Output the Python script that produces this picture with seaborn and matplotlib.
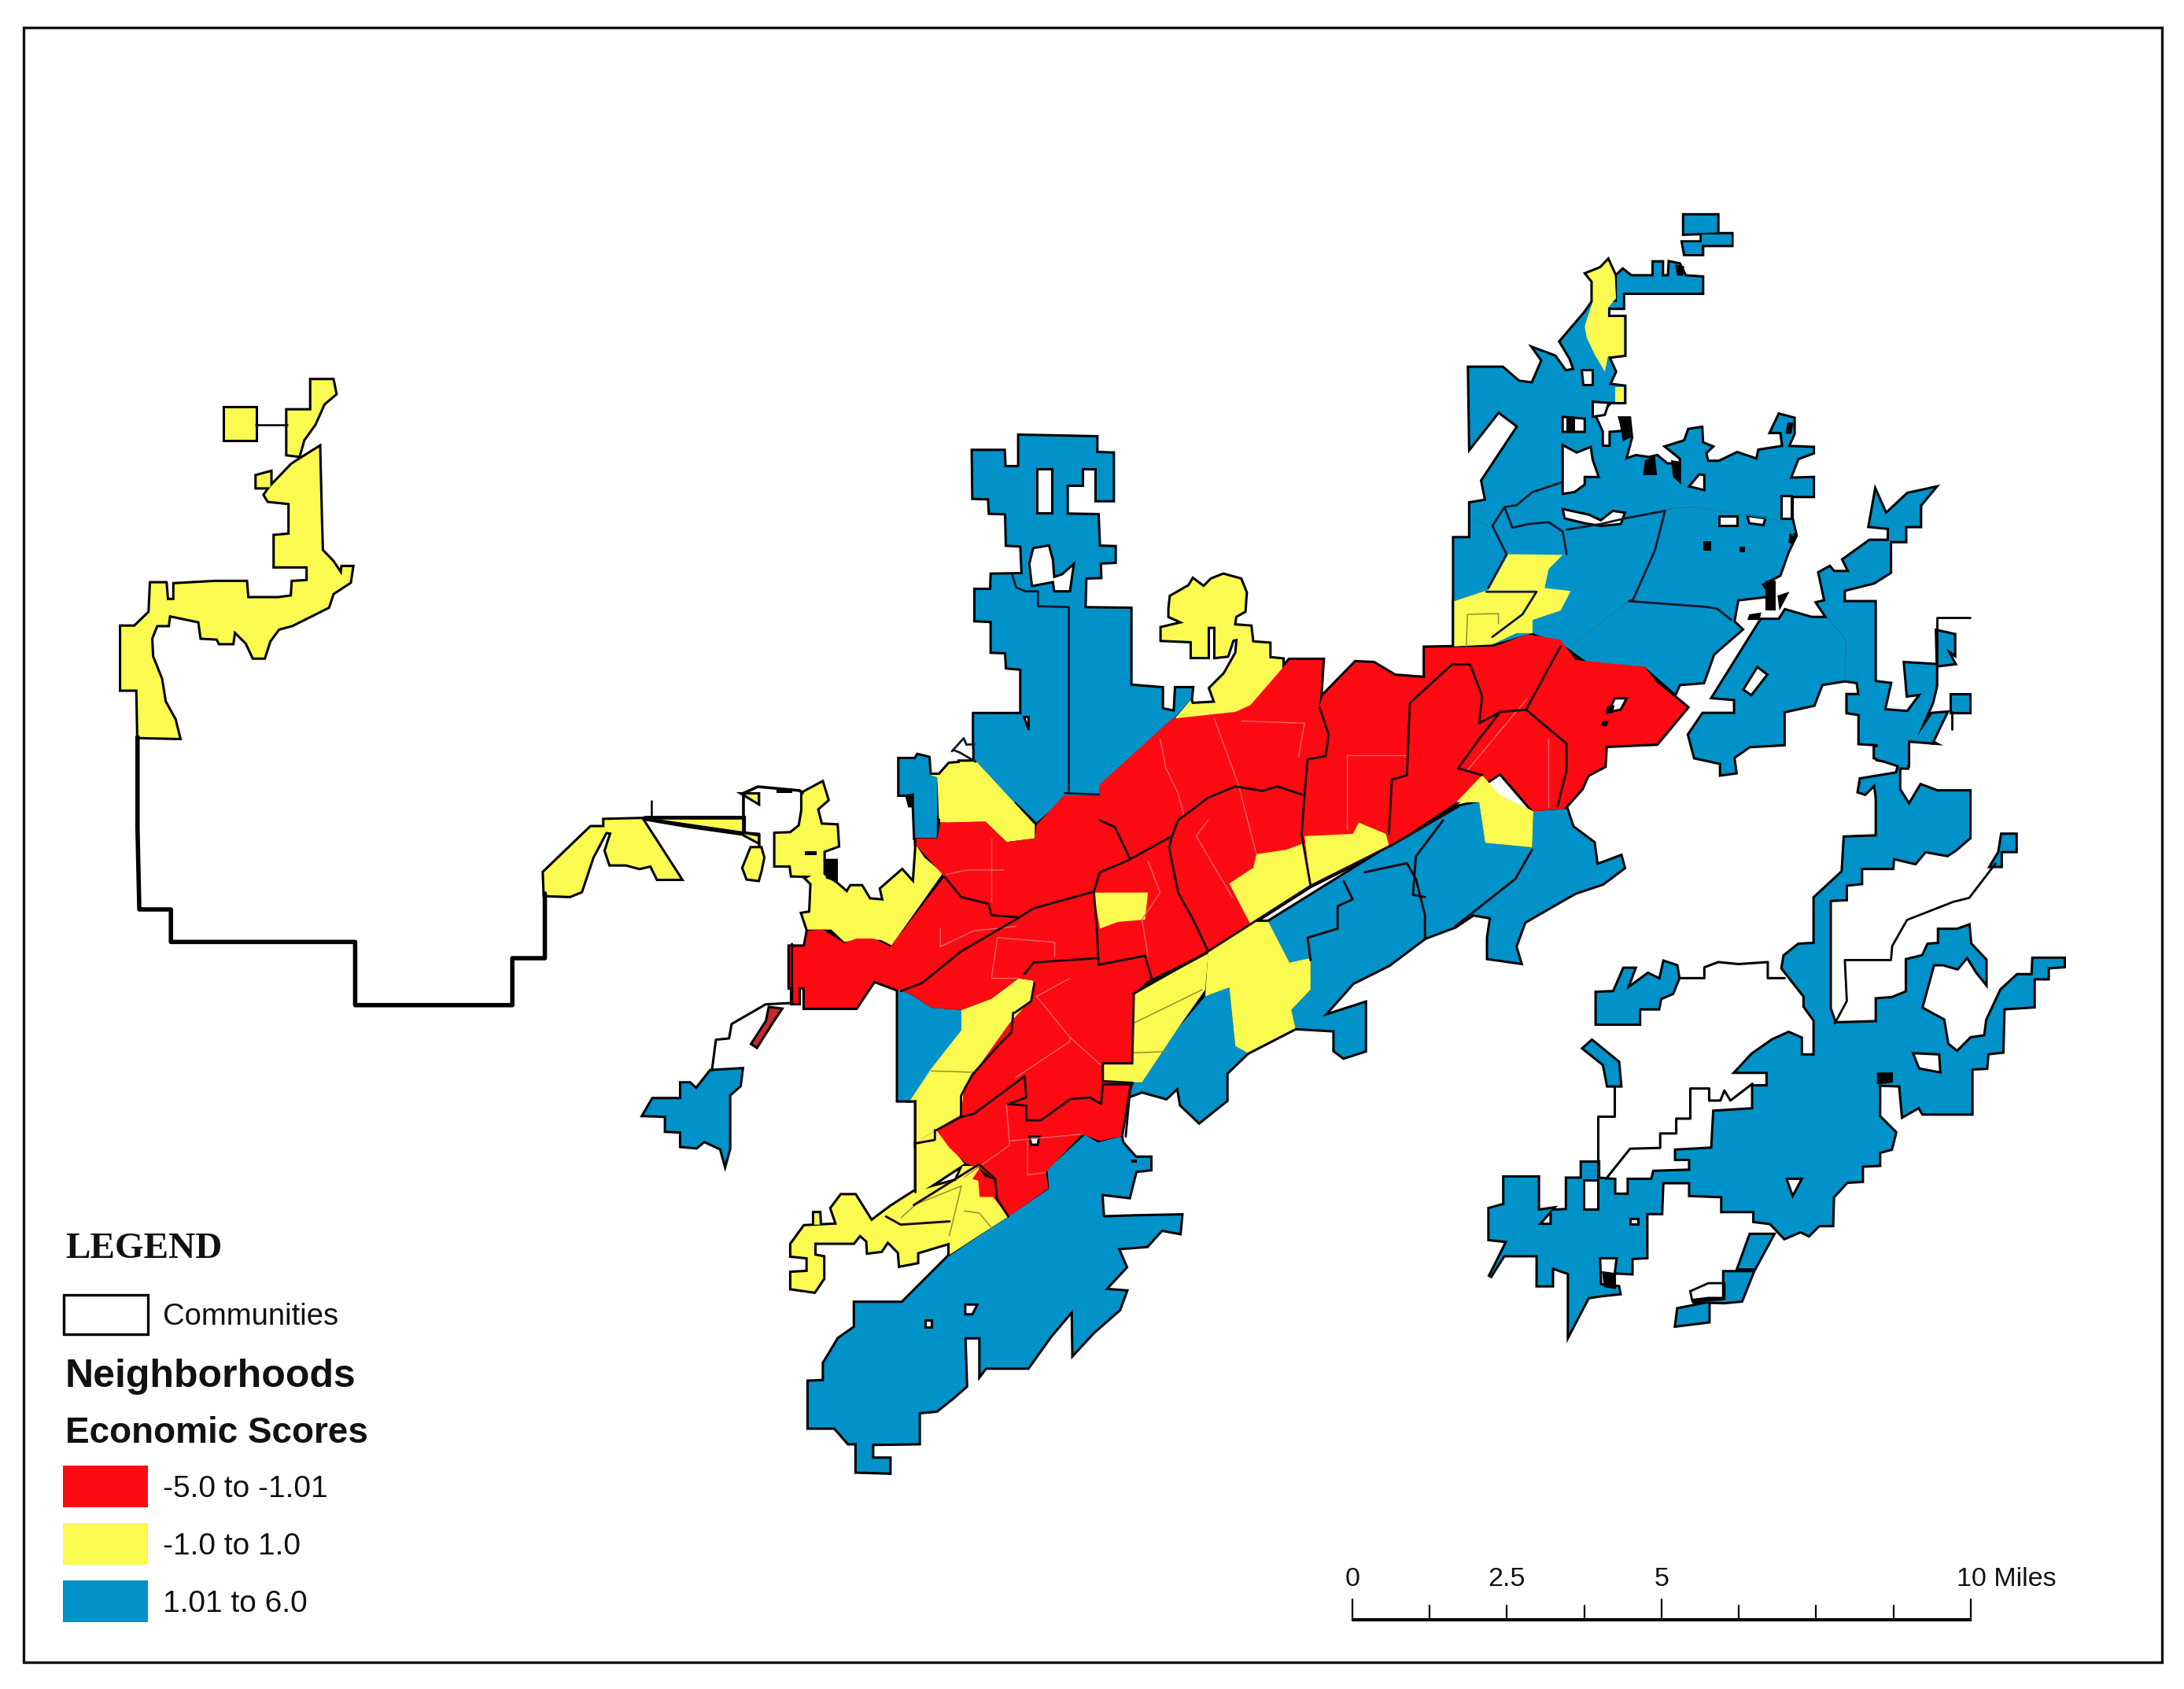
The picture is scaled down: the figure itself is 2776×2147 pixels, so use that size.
import pandas as pd
import matplotlib.pyplot as plt
import seaborn as sns

sns.set_theme(style='white')
plt.rcParams['font.family'] = ['Liberation Sans', 'DejaVu Sans']

# Each map sheet: left, top, x scale, y scale of the traced outlines on the page
SHEETS = {
    'centre': (1000, 750, 0.7653, 0.574),
    'northeast': (1800, 250, 0.5102, 0.4783),
    'east': (1850, 950, 0.5102, 0.5102),
    'west': (130, 450, 0.574, 0.574),
    'south': (950, 1250, 0.4145, 0.4145),
    'north': (1130, 520, 0.3333, 0.3333),
    'midwest': (780, 960, 0.3333, 0.3333),
}

LEGEND_LABELS = ['-5.0 to -1.01', '-1.0 to 1.0', '1.01 to 6.0']
CLASS_COLORS = sns.color_palette(['#fe0a12', '#fafa50', '#0092c8'])
SCALE_MILES = [0, 1.25, 2.5, 3.75, 5, 6.25, 7.5, 8.75, 10]
SCALE_LABELS = ['0', '2.5', '5', '10 Miles']

# High score neighborhoods
blue_north = [(320,160),(437,160),(440,222),(497,222),(497,102),(790,108),(790,168),(853,170),(853,347),(792,347),(792,225),(735,225),(735,288),(677,288),(677,403),(795,405),(800,525),(860,527),(860,582),(803,585),(805,640),(748,642),(745,760),(920,762),(920,1055),(1040,1065),(1040,1145),(1090,1155),(1095,1065),(1155,1065),(1150,1110),(1095,1170),(1000,1280),(880,1380),(800,1480),(670,1480),(470,1500),(330,1345),(325,1275),(325,1165),(490,1165),(497,1225),(537,1225),(537,1170),(505,1170),(505,990),(450,985),(447,927),(392,925),(392,808),(330,805),(330,690),(390,690),(392,632),(510,630),(505,520),(450,517),(447,397),(385,395),(382,340),(322,338)]
blue_north_low = [(312,275),(390,275),(400,310),(470,310),(470,450),(415,515),(312,380)]
blue_notch = [(1090,15),(1150,15),(1160,0),(1200,10),(1205,75),(1235,85),(1232,315),(1150,315),(1145,190),(1130,190),(1120,150),(1090,150)]
blue_sw = [(115,1372),(150,1312),(258,1312),(258,1252),(290,1252),(315,1275),(370,1205),(488,1198),(480,1260),(440,1295),(440,1500),(425,1555),(410,1500),(345,1470),(315,1495),(258,1490),(258,1435),(200,1432),(200,1375)]
blue_west_wedge = [(185,885),(205,895),(240,925),(290,930),(290,975),(205,1130),(185,1130)]
blue_northeast = [(95,908),(135,908),(135,815),(175,808),(165,755),(255,610),(205,570),(135,665),(132,455),(215,455),(255,492),(290,497),(315,435),(295,405),(345,425),(372,465),(395,460),(385,430),(360,385),(420,310),(440,280),(500,280),(500,210),(515,195),(535,212),(592,212),(592,175),(612,175),(612,212),(630,212),(632,175),(655,180),(670,212),(712,215),(712,255),(515,255),(515,295),(478,295),(478,320),(518,320),(518,420),(478,425),(495,465),(480,500),(518,505),(518,545),(485,545),(445,585),(462,625),(462,665),(485,665),(485,628),(520,625),(510,590),(530,590),(535,640),(520,700),(548,690),(580,695),(600,690),(625,712),(660,712),(660,695),(625,665),(670,650),(680,620),(710,615),(712,655),(735,665),(720,680),(725,705),(755,705),(800,682),(850,700),(855,675),(915,665),(988,668),(988,680),(950,695),(930,750),(988,748),(988,795),(935,795),(935,855),(945,900),(925,945),(905,1005),(860,1030),(880,1060),(800,1070),(790,1130),(810,1150),(740,1215),(715,1290),(655,1295),(645,1320),(570,1250),(430,1240),(385,1205),(365,1190),(290,1160),(190,1190),(95,1195)]
blue_ne_tip = [(668,50),(750,50),(750,95),(668,98)]
blue_ne_hook = [(665,122),(712,122),(712,100),(785,100),(785,128),(712,128),(712,152),(670,152)]
blue_ne_spire = [(905,580),(940,590),(940,630),(925,665),(915,665),(910,625),(885,625)]
blue_ne_lobe = [(860,1125),(905,1125),(920,1100),(985,1120),(1025,1120),(1072,1180),(1068,1285),(1010,1295),(990,1350),(915,1368),(915,1455),(830,1460),(790,1490),(795,1530),(760,1535),(760,1505),(695,1490),(680,1430),(715,1375),(795,1375),(795,1335),(740,1330)]
blue_ne_strip = [(1005,1000),(1030,985),(1040,998),(1080,998),(1065,965),(1130,915),(1178,915),(1178,880),(1130,875),(1145,785),(1170,845),(1225,790),(1290,775),(1255,820),(1255,875),(1218,875),(1218,915),(1180,915),(1180,998),(1140,1025),(1065,1045),(1065,1078),(1142,1078),(1142,1290),(1180,1295),(1165,1365),(1225,1370),(1260,1320),(1225,1325),(1218,1240),(1295,1245),(1295,1300),(1285,1345),(1250,1430),(1285,1450),(1225,1445),(1225,1510),(1150,1495),(1150,1455),(1105,1452),(1105,1375),(1075,1370),(1075,1325),(1105,1325),(1100,1290),(1068,1285),(1072,1180),(1025,1120),(1000,1080),(1020,1075)]
blue_ne_sliver = [(1245,1440),(1285,1375),(1320,1372),(1285,1450)]
blue_ne_square = [(1335,1325),(1378,1325),(1378,1370),(1335,1370)]
blue_ne_nubs = [(1298,1155),(1340,1165),(1340,1215),(1320,1200),(1340,1240),(1300,1245)]
blue_east = [(895,375),(965,310),(970,225),(1050,222),(1050,125),(1085,110),(1130,145),(1160,95),(1200,110),(1280,110),(1280,225),(1245,255),(1225,268),(1170,258),(1145,288),(1090,275),(1088,300),(1010,300),(1010,338),(972,342),(972,378),(932,380),(932,650),(945,688),(1050,685),(1050,628),(1088,625),(1125,610),(1125,530),(1165,520),(1178,492),(1205,490),(1205,455),(1250,455),(1278,445),(1282,490),(1320,530),(1320,585),(1300,560),(1275,520),(1250,550),(1215,540),(1190,540),(1160,650),(1215,680),(1225,740),(1250,760),(1285,725),(1320,720),(1325,680),(1360,605),(1400,568),(1438,568),(1440,527),(1515,527),(1515,545),(1475,548),(1475,575),(1440,575),(1440,645),(1365,650),(1362,758),(1325,762),(1322,798),(1285,800),(1285,912),(1165,912),(1155,895),(1115,918),(1108,842),(1055,840),(1055,920),(1095,960),(1085,1000),(1055,1008),(1055,1040),(1012,1042),(1012,1080),(975,1082),(940,1120),(938,1190),(905,1190),(880,1215),(860,1205),(820,1222),(785,1185),(745,1180),(745,1155),(665,1155),(665,1118),(585,1115),(585,1083),(515,1083),(512,1160),(475,1160),(475,1270),(438,1272),(438,1310),(400,1308),(405,1270),(357,1270),(360,1340),(405,1345),(408,1360),(360,1365),(330,1370),(283,1460),(283,1310),(240,1295),(240,1340),(205,1340),(205,1265),(120,1265),(85,1320),(130,1230),(85,1225),(85,1150),(122,1140),(122,1072),(205,1072),(205,1155),(240,1150),(205,1190),(240,1190),(240,1155),(278,1153),(278,1075),(315,1075),(315,1035),(355,1035),(355,1075),(395,1078),(395,1115),(432,1115),(432,1078),(490,1078),(495,1058),(585,1055),(585,1025),(550,1025),(550,1005),(640,1000),(645,908),(742,902),(742,845),(778,845),(778,808),(700,808),(740,765),(790,730),(830,712),(860,725),(860,768),(895,768),(895,680),(870,645),(870,620),(815,550),(820,520),(855,492),(895,490)]
blue_east_curl = [(1005,110),(1010,80),(1100,65),(1105,45),(1045,25),(1045,0),(1125,0),(1125,50),(1105,50),(1105,105),(1130,145),(1050,125),(1045,90),(1020,115)]
blue_east_nub = [(1362,218),(1395,218),(1395,258),(1358,258),(1358,295),(1335,295),(1355,262)]
blue_east_blob = [(352,612),(395,610),(420,552),(445,552),(425,605),(480,565),(510,580),(520,535),(550,545),(555,575),(540,612),(510,625),(505,650),(457,650),(457,688),(352,688)]
blue_east_crescent = [(320,750),(340,732),(405,785),(410,842),(380,842),(370,790)]
blue_east_shard_a = [(705,1298),(735,1215),(790,1215),(745,1298)]
blue_east_shard_b = [(670,1308),(740,1308),(712,1378),(670,1382),(590,1380),(630,1375),(670,1375)]
blue_east_shard_c = [(555,1400),(630,1385),(630,1430),(550,1440)]
blue_river = [(800,735),(1005,565),(1115,480),(1150,470),(1160,560),(1238,570),(1240,490),(1295,485),(1305,525),(1340,560),(1345,610),(1385,590),(1390,615),(1355,650),(1310,670),(1290,685),(1225,735),(1210,790),(1218,825),(1165,815),(1165,770),(1170,725),(1140,718),(1110,745),(1060,770),(1000,830),(940,870),(890,945),(960,915),(960,1020),(925,1035),(910,1020),(910,975),(845,970),(838,930),(870,885),(870,815),(835,825)]
blue_river_south = [(735,880),(745,1010),(765,1025),(730,1070),(730,1130),(685,1178),(655,1140),(650,1100),(630,1125),(590,1110),(570,1120),(575,1095),(650,970),(695,900)]
blue_south = [(800,715),(620,835),(475,980),(330,980),(330,1055),(280,1090),(235,1165),(235,1220),(188,1222),(188,1362),(268,1362),(310,1410),(335,1410),(335,1497),(435,1500),(435,1458),(382,1458),(382,1412),(525,1410),(525,1315),(580,1310),(630,1270),(670,1235),(665,1085),(715,1085),(715,1198),(730,1178),(860,1178),(930,1080),(998,1000),(1000,1135),(1060,1070),(1140,1000),(1160,945),(1095,940),(1160,870),(1135,812),(1225,805),(1270,755),(1325,765),(1330,712),(1185,715),(1090,718),(1085,645),(1170,655),(1190,575),(1235,570),(1235,535),(1190,535),(1150,490),(1145,470),(1075,488),(1035,465),(920,570),(925,630)]

# Middle score neighborhoods
yellow_nw_main = [(42,604),(72,604),(105,572),(108,508),(140,508),(143,545),(160,545),(160,510),(250,505),(318,505),(321,541),(390,541),(420,537),(422,505),(455,503),(455,470),(382,470),(382,403),(415,400),(415,330),(368,325),(360,312),(372,295),(420,245),(440,232),(480,207),(484,370),(486,435),(510,460),(530,490),(532,472),(553,472),(548,505),(510,530),(500,560),(470,575),(420,600),(390,608),(370,635),(358,672),(335,672),(320,640),(292,612),(288,640),(260,640),(255,630),(220,628),(215,592),(148,578),(145,600),(120,600),(108,630),(110,670),(130,720),(138,770),(160,810),(170,850),(80,848),(78,743),(42,743)]
yellow_nw_square = [(272,120),(340,120),(340,190),(272,190)]
yellow_nw_top = [(410,125),(463,125),(463,58),(510,58),(516,88),(490,110),(470,155),(445,190),(435,225),(410,222)]
yellow_nw_bit = [(342,270),(372,262),(372,295),(342,295)]
yellow_west_arm = [(978,1148),(1082,1048),(1112,1048),(1112,1032),(1195,1030),(1280,1162),(1230,1162),(1215,1132),(1190,1138),(1160,1130),(1125,1130),(1115,1100),(1128,1060),(1115,1058),(1085,1115),(1060,1190),(1035,1200),(980,1198)]
yellow_west_wedge = [(1200,1028),(1420,1028),(1420,1062),(1300,1045)]
yellow_mid_main = [(720,145),(795,105),(815,170),(775,205),(790,265),(850,268),(855,345),(800,365),(800,455),(850,490),(890,525),(905,500),(945,500),(975,550),(1030,555),(1020,510),(1100,440),(1145,490),(1155,345),(1185,390),(1255,450),(1060,725),(1020,705),(960,700),(880,712),(830,665),(740,665),(720,605),(750,600),(755,490),(735,470),(755,460),(680,458),(675,420),(617,420),(617,300),(675,298),(710,270),(720,210)]
yellow_mid_bit = [(525,355),(560,355),(570,390),(560,440),(550,475),(510,470),(495,430),(515,380)]
yellow_mid_corner = [(500,150),(550,150),(550,180)]
yellow_mid_sliver = [(495,300),(550,310),(550,330)]
yellow_north_left = [(1235,85),(1205,75),(1320,75),(1320,25),(1380,25),(1500,155),(1500,310),(1440,260),(1400,250),(1270,258),(1240,240)]
yellow_north_wedge = [(250,415),(270,385),(315,380),(412,520),(412,550),(365,558),(330,513),(255,515)]
yellow_north_right = [(1040,835),(1125,815),(1070,790),(1070,760),(1075,715),(1145,675),(1160,650),(1200,680),(1230,650),(1275,632),(1340,650),(1360,700),(1355,770),(1320,790),(1315,825),(1378,830),(1385,890),(1450,895),(1450,950),(1500,955),(1500,1000),(1390,1130),(1300,1170),(1090,1180),(1150,1110),(1155,1125),(1245,1120),(1225,1065),(1280,1010),(1325,930),(1330,875),(1310,880),(1290,940),(1245,945),(1245,830),(1215,830),(1215,945),(1155,945),(1155,885),(1040,880)]
yellow_ne_tower = [(425,205),(460,190),(478,170),(495,210),(498,270),(478,295),(478,320),(518,320),(518,420),(478,425),(470,465),(445,420),(425,375),(420,345),(430,310),(440,280),(440,225)]
yellow_ne_tab = [(495,505),(518,505),(518,545),(495,545)]
yellow_ne_block = [(95,1075),(180,1045),(230,950),(365,952),(330,990),(320,1040),(385,1048),(360,1100),(290,1125),(290,1160),(250,1160),(190,1190),(95,1195)]
yellow_strip_west = [(290,930),(340,905),(385,860),(410,865),(408,905),(370,960),(295,1100),(290,1162),(248,1195),(215,1225),(215,1130),(205,1130),(240,1060),(290,975)]
yellow_strip_low = [(215,1225),(248,1195),(295,1270),(215,1340)]
yellow_sw = [(135,800),(175,745),(275,740),(258,690),(288,650),(330,650),(380,730),(440,685),(510,640),(640,605),(660,560),(705,560),(800,715),(620,832),(620,795),(520,825),(520,855),(468,865),(465,825),(430,790),(410,820),(370,825),(368,790),(345,770),(325,795),(205,795),(205,835),(232,840),(232,905),(205,945),(135,935),(135,888),(185,885),(185,840),(135,835)]
yellow_sw_tab = [(205,705),(220,705),(222,740),(205,740)]
yellow_band_a = [(575,895),(700,805),(695,885),(650,970),(590,1090),(525,1090),(525,1050),(575,1050)]
yellow_band_b = [(700,800),(770,735),(800,735),(835,825),(870,815),(870,885),(838,930),(845,970),(765,1025),(745,1010),(735,880),(695,900)]
yellow_patch_c = [(735,650),(775,615),(780,585),(830,575),(860,560),(870,655),(770,740)]
yellow_patch_d = [(860,545),(940,540),(950,515),(995,540),(1000,565),(870,655)]
yellow_patch_e = [(510,670),(600,670),(595,730),(550,735),(520,750)]
yellow_patch_f = [(1112,470),(1155,410),(1185,455),(1240,490),(1238,570),(1160,560),(1150,470)]

# Low score neighborhoods
red_core = [(5,790),(30,790),(35,755),(60,752),(95,782),(115,772),(145,772),(172,790),(262,635),(215,565),(215,550),(250,550),(255,515),(330,513),(365,558),(412,550),(415,520),(460,455),(518,455),(520,430),(640,285),(745,270),(770,255),(835,155),(890,155),(885,258),(890,235),(945,160),(975,162),(1010,190),(1060,195),(1060,128),(1175,125),(1230,98),(1285,110),(1310,155),(1425,170),(1445,205),(1495,260),(1445,340),(1360,345),(1358,390),(1330,410),(1320,440),(1290,485),(1240,490),(1185,405),(1112,470),(1005,565),(870,655),(700,800),(600,865),(575,895),(575,1050),(525,1050),(525,1090),(570,1092),(555,1210),(520,1220),(490,1205),(430,1290),(435,1325),(368,1388),(340,1340),(345,1305),(318,1280),(298,1270),(270,1235),(248,1195),(290,1162),(295,1100),(370,960),(408,905),(410,865),(385,860),(340,905),(290,930),(240,925),(205,895),(185,885),(145,865),(115,925),(30,925),(30,880),(5,880)]
red_sw_patch = [(690,600),(710,570),(730,595),(755,600),(755,655),(712,655),(708,605)]
red_stub = [(680,880),(705,880),(705,945),(680,945)]
red_sliver = [(595,965),(635,970),(605,1015),(545,1110),(530,1100),(585,1015)]

# Holes in the map
hole_north_a = [(563,228),(620,228),(620,395),(563,395)]
hole_north_b = [(550,530),(610,520),(625,575),(630,640),(660,630),(705,590),(690,695),(630,695),(625,660),(545,675),(535,590)]
hole_ne_a = [(755,848),(800,848),(800,873),(755,873)]
hole_ne_b = [(825,848),(870,855),(865,873),(830,868)]
hole_ne_c = [(365,830),(430,845),(460,860),(490,835),(520,840),(510,870),(460,875),(420,868),(370,855)]
hole_ne_d = [(365,660),(400,680),(435,665),(440,700),(455,745),(420,745),(420,765),(395,785),(365,790)]
hole_ne_e = [(412,460),(440,460),(440,500),(415,500)]
hole_ne_f = [(440,545),(480,548),(470,580),(440,585)]
hole_ne_g = [(365,585),(420,590),(420,625),(365,625)]
hole_ne_h = [(680,770),(705,738),(718,740),(718,780)]
hole_ne_i = [(910,795),(935,795),(935,855),(910,855)]
hole_ne_j = [(815,1310),(850,1250),(875,1270),(835,1325)]
hole_east_a = [(825,1075),(863,1075),(840,1118)]
hole_east_b = [(1140,762),(1205,765),(1208,810),(1155,800)]
hole_east_c = [(320,1078),(355,1078),(355,1150),(320,1150)]
hole_east_d = [(435,1175),(455,1175),(455,1187),(435,1187)]
hole_south_a = [(668,985),(705,985),(690,1015),(668,1015)]
hole_south_b = [(545,1032),(565,1032),(565,1055),(545,1055)]
hole_south_c = [(865,470),(895,470),(890,495),(870,495)]
hole_centre_a = [(1375,240),(1395,240),(1385,265),(1365,270)]

# Clusters of tiny parcels that print as black specks
specks_midwest = [
    [(800,395),(855,395),(855,485),(810,470)],
    [(620,125),(680,125),(680,145),(620,145)],
    [(730,365),(775,365),(775,380),(730,380)],
    [(1115,150),(1145,145),(1145,190),(1125,190)],
]
specks_northeast = [
    [(870,1020),(895,1020),(895,1100),(870,1100)],
    [(900,1060),(930,1050),(905,1100)],
    [(830,1110),(860,1105),(855,1125),(825,1125)],
    [(570,700),(595,690),(600,740),(565,740)],
    [(635,700),(660,705),(660,765),(640,745)],
    [(505,590),(530,590),(535,640),(515,650)],
    [(645,180),(668,185),(665,210),(650,210)],
    [(925,600),(940,600),(935,630),(920,630)],
    [(930,895),(945,895),(940,925),(928,920)],
    [(715,915),(735,915),(735,940),(715,940)],
    [(805,930),(820,930),(820,945),(805,945)],
    [(375,590),(395,590),(395,622),(375,622)],
]
specks_centre = [
    [(1355,290),(1365,290),(1362,302),(1352,300)],
    [(1362,258),(1375,255),(1372,272),(1360,275)],
]
specks_east = [
    [(365,1305),(400,1310),(400,1350),(370,1345)],
    [(1050,810),(1090,810),(1090,835),(1050,840)],
]
specks_south = [[(1175,540),(1195,540),(1195,550),(1178,550)]]

# Community boundaries
community_west = [(78,848),(78,1050),(82,1230),(152,1230),(152,1302),(560,1302),(560,1442),(908,1442),(908,1338),(980,1338),(980,1195)]
community_nw_link = [(340,156),(410,156)]
community_tick = [(145,175),(145,240)]
community_arm_top = [(110,240),(490,240)]
community_arm_low = [(110,240),(490,295),(555,300),(555,345)]
community_block = [(495,295),(495,145),(550,120),(710,135),(720,145)]
community_sw_path = [(680,720),(680,945),(580,950),(450,1025),(440,1080),(390,1085),(375,1200)]
community_east_a = [(395,845),(395,920),(355,920),(355,1075)]
community_east_b = [(375,1075),(435,1000),(510,998),(510,962),(550,962),(550,925),(585,925),(585,850),(632,850),(632,880),(660,880),(670,855),(685,880),(740,838)]
community_east_c = [(560,575),(620,575),(620,548),(655,535),(705,540),(778,535),(778,575),(820,575)]
community_east_d = [(945,688),(975,632),(970,530),(1085,530),(1088,495),(1125,430),(1240,385),(1280,375),(1345,290)]
community_east_e = [(585,1355),(630,1335),(670,1335),(670,1375),(590,1380),(585,1355)]
community_ne_top = [(1380,1118),(1298,1118),(1298,1245)]
community_ne_post = [(1335,1370),(1335,1415)]

community_centre = [
    [(190,888),(225,870),(290,800),(380,730),(410,705),(510,668),(520,625),(565,600),(640,545),(650,510),(700,460),(745,435),(790,445),(815,435),(860,455)],
    [(860,455),(865,375),(895,368),(900,320),(885,260)],
    [(860,455),(855,540),(870,655)],
    [(520,510),(545,525),(570,595)],
    [(262,635),(290,680),(335,695),(340,720),(385,725)],
    [(640,545),(635,570),(650,670),(675,730),(700,800)],
    [(510,668),(515,750),(518,830),(595,810),(607,865)],
    [(575,895),(700,800),(870,655),(1005,565),(1115,480)],
    [(395,850),(410,825),(518,815)],
    [(1035,250),(1030,410),(1005,420),(1000,540)],
    [(1035,250),(1105,165),(1135,165),(1155,235),(1150,295),(1185,270)],
    [(1285,125),(1228,265),(1295,340),(1295,400),(1280,480)],
    [(1228,265),(1185,270),(1150,330),(1115,395),(1155,410)],
    [(925,645),(940,685),(915,700),(915,750),(865,770),(870,820)],
    [(960,625),(1030,605),(1045,640),(1060,720),(1060,770)],
    [(1090,510),(1045,590),(1040,675),(1060,680)],
    [(1238,575),(1210,640),(1110,745)],
]
community_south = [
    [(580,450),(655,410),(695,400),(850,285),(855,350),(800,370),(855,375),(855,420),(900,420),(990,355),(1050,350),(1085,370),(1090,310),(1170,310)],
    [(510,680),(710,555),(760,600),(765,660),(800,715)],
    [(620,730),(470,740),(425,715)],
    [(815,90),(810,150),(770,190),(690,280),(655,345),(655,410)],
    [(820,90),(870,55),(880,0)],
    [(515,360),(515,640)],
    [(520,490),(575,480),(575,450)],
    [(1090,245),(1180,245),(1185,30)],
    [(1090,245),(1090,300),(1180,305)],
    [(1175,310),(1160,470)],
]
community_northeast = [
    [(620,835),(595,940),(540,1072),(530,1075),(720,1090),(750,1095),(785,1125)],
    [(360,760),(290,785),(250,820),(220,825),(190,875),(225,950),(180,1040)],
    [(220,825),(240,880),(280,870),(330,865),(365,890),(375,950)],
    [(375,885),(460,870),(520,855),(620,835)],
    [(175,1050),(300,1050),(265,1110),(190,1170)],
]
community_north = [
    [(685,755),(685,1465)],
    [(470,632),(485,680),(520,695),(568,695),(568,752),(685,755)],
    [(240,1305),(285,1255),(295,1280),(325,1278)],
    [(245,1300),(270,1310),(330,1345)],
    [(670,1465),(800,1470)],
]

# Faint neighborhood lines
faint_centre = [
    [(620,330),(630,395),(650,450),(660,500)],
    [(710,285),(750,430),(780,585)],
    [(755,290),(860,295),(850,370)],
    [(930,365),(1030,365)],
    [(930,365),(930,530)],
    [(600,600),(620,670),(590,730),(600,810)],
    [(700,510),(680,545),(740,680)],
    [(1230,240),(1130,400)],
    [(1265,330),(1265,480)],
    [(340,550),(340,690)],
    [(265,630),(300,620),(360,620)],
    [(255,750),(255,790),(310,755),(380,745)],
    [(350,770),(445,780),(445,810)],
    [(350,770),(340,860),(385,860)],
    [(470,860),(415,900),(470,990),(470,1000),(380,1080)],
    [(470,990),(520,1050),(575,1050)],
    [(365,1140),(370,1230),(295,1300)],
    [(370,1220),(490,1205)],
    [(400,1220),(400,1295),(430,1290)],
]
faint_blue = [
    [(630,830),(680,825),(760,835),(900,860),(940,900)],
    [(530,1075),(385,1195)],
    [(140,855),(190,880)],
    [(630,830),(620,835)],
]
faint_yellow = [
    [(575,960),(690,885)],
    [(575,1025),(635,1022)],
    [(240,1065),(310,1068)],
    [(190,1390),(215,1360),(290,1320)],
    [(290,1320),(270,1430)],
    [(295,1375),(320,1380),(345,1420)],
]
faint_yellow_ne = [[(125,1195),(128,1110),(205,1108),(205,1135)]]

BLUE_LAYERS = [
    (blue_north, 'north'), (blue_north_low, 'centre'), (blue_notch, 'midwest'), (blue_sw, 'midwest'),
    (blue_west_wedge, 'centre'), (blue_northeast, 'northeast'), (blue_ne_tip, 'northeast'),
    (blue_ne_hook, 'northeast'), (blue_ne_spire, 'northeast'), (blue_ne_lobe, 'northeast'),
    (blue_ne_strip, 'northeast'), (blue_ne_sliver, 'northeast'), (blue_ne_square, 'northeast'),
    (blue_ne_nubs, 'northeast'), (blue_east, 'east'), (blue_east_curl, 'east'), (blue_east_nub, 'east'),
    (blue_east_blob, 'east'), (blue_east_crescent, 'east'), (blue_east_shard_a, 'east'),
    (blue_east_shard_b, 'east'), (blue_east_shard_c, 'east'), (blue_river, 'centre'),
    (blue_river_south, 'centre'), (blue_south, 'south'),
]
YELLOW_LAYERS = [
    (yellow_nw_main, 'west'), (yellow_nw_square, 'west'), (yellow_nw_top, 'west'), (yellow_nw_bit, 'west'),
    (yellow_west_arm, 'west'), (yellow_west_wedge, 'west'), (yellow_mid_main, 'midwest'),
    (yellow_mid_bit, 'midwest'), (yellow_mid_corner, 'midwest'), (yellow_mid_sliver, 'midwest'),
    (yellow_north_left, 'midwest'), (yellow_north_wedge, 'centre'), (yellow_north_right, 'north'),
    (yellow_ne_tower, 'northeast'), (yellow_ne_tab, 'northeast'), (yellow_ne_block, 'northeast'),
    (yellow_strip_west, 'centre'), (yellow_strip_low, 'centre'), (yellow_sw, 'south'), (yellow_sw_tab, 'south'),
    (yellow_band_a, 'centre'), (yellow_band_b, 'centre'),
]
RED_LAYERS = [(red_core, 'centre'), (red_stub, 'midwest')]
# yellow and red pieces that sit on top of the red core
TOP_LAYERS = [
    (yellow_patch_c, 'centre', 1), (yellow_patch_d, 'centre', 1), (yellow_patch_e, 'centre', 1),
    (yellow_patch_f, 'centre', 1), (red_sw_patch, 'south', 0),
]
HOLE_LAYERS = [
    (hole_north_a, 'north'), (hole_north_b, 'north'), (hole_ne_a, 'northeast'), (hole_ne_b, 'northeast'),
    (hole_ne_c, 'northeast'), (hole_ne_d, 'northeast'), (hole_ne_e, 'northeast'), (hole_ne_f, 'northeast'),
    (hole_ne_g, 'northeast'), (hole_ne_h, 'northeast'), (hole_ne_i, 'northeast'), (hole_ne_j, 'northeast'),
    (hole_east_a, 'east'), (hole_east_b, 'east'), (hole_east_c, 'east'), (hole_east_d, 'east'),
    (hole_south_a, 'south'), (hole_south_b, 'south'), (hole_south_c, 'south'), (hole_centre_a, 'centre'),
]
SPECK_LAYERS = [
    (specks_midwest, 'midwest'), (specks_northeast, 'northeast'), (specks_centre, 'centre'),
    (specks_east, 'east'), (specks_south, 'south'),
]
LINE_LAYERS = [
    (community_west, 'west', 4.0), (community_nw_link, 'west', 1.8), (community_tick, 'midwest', 1.8),
    (community_arm_top, 'midwest', 2.6), (community_arm_low, 'midwest', 2.2), (community_block, 'midwest', 2.6),
    (community_sw_path, 'midwest', 2.2), (community_east_a, 'east', 2.2), (community_east_b, 'east', 2.2),
    (community_east_c, 'east', 2.2), (community_east_d, 'east', 2.0), (community_east_e, 'east', 2.0),
    (community_ne_top, 'northeast', 2.0), (community_ne_post, 'northeast', 2.0),
]


def to_page(points, sheet):
    left, top, sx, sy = SHEETS[sheet]
    return [left + x * sx for x, y in points], [top + y * sy for x, y in points]


def draw_fill(ax, points, sheet, color, z):
    xs, ys = to_page(points, sheet)
    ax.fill(xs, ys, color=color, lw=0, zorder=z)


def draw_paths(ax, paths, sheet, color, width, z):
    rows = []
    for i, path in enumerate(paths):
        xs, ys = to_page(path, sheet)
        rows += [{'x': x, 'y': y, 'line': i} for x, y in zip(xs, ys)]
    sns.lineplot(data=pd.DataFrame(rows), x='x', y='y', units='line', estimator=None, sort=False,
                 color=color, lw=width, ax=ax, legend=False, zorder=z)


fig = plt.figure(figsize=(27.76, 21.47), dpi=100)
ax = fig.add_axes([0, 0, 1, 1])

red, yellow, blue = CLASS_COLORS

# outlines go first, fills then cover all but the outer half
all_layers = BLUE_LAYERS + YELLOW_LAYERS + RED_LAYERS + [(red_sliver, 'midwest')]
for points, sheet in all_layers:
    xs, ys = to_page(points, sheet)
    ax.fill(xs, ys, facecolor='none', edgecolor='black', lw=4.4, zorder=1)

for points, sheet in BLUE_LAYERS:
    draw_fill(ax, points, sheet, blue, 2)
for points, sheet in YELLOW_LAYERS:
    draw_fill(ax, points, sheet, yellow, 3)
for points, sheet in RED_LAYERS:
    draw_fill(ax, points, sheet, red, 4)
for points, sheet, idx in TOP_LAYERS:
    draw_fill(ax, points, sheet, CLASS_COLORS[idx], 5)
draw_fill(ax, red_sliver, 'midwest', '#c8282d', 5)

for points, sheet in HOLE_LAYERS:
    xs, ys = to_page(points, sheet)
    ax.fill(xs, ys, facecolor='white', edgecolor='black', lw=2.2, zorder=6)
for specks, sheet in SPECK_LAYERS:
    for points in specks:
        draw_fill(ax, points, sheet, 'black', 7)

draw_paths(ax, faint_centre, 'centre', '#e06a6a', 1.0, 7)
draw_paths(ax, faint_blue, 'northeast', '#1c7f9c', 1.0, 7)
draw_paths(ax, faint_yellow, 'centre', '#8a8a30', 1.0, 7)
draw_paths(ax, faint_yellow_ne, 'northeast', '#8a8a30', 1.0, 7)
draw_paths(ax, community_centre, 'centre', '#1a0a0a', 2.1, 8)
draw_paths(ax, community_south, 'south', '#1a0a0a', 2.1, 8)
draw_paths(ax, community_northeast, 'northeast', '#10182a', 2.0, 8)
draw_paths(ax, community_north, 'north', '#10182a', 2.0, 8)
for path, sheet, width in LINE_LAYERS:
    draw_paths(ax, [path], sheet, 'black', width, 8)

# legend block
ax.text(83, 1588, 'LEGEND', family='Liberation Serif', weight='bold', size=34, va='center', color='#111111')
ax.add_patch(plt.Rectangle((81, 1646), 107, 50, facecolor='white', edgecolor='black', lw=2.4))
ax.text(207, 1674, 'Communities', size=27.5, va='center', color='#111111')
ax.text(83, 1750, 'Neighborhoods', weight='bold', size=36, va='center', color='#111111')
ax.text(83, 1822, 'Economic Scores', weight='bold', size=33, va='center', color='#111111')
for label, color, top, text_x in zip(LEGEND_LABELS, CLASS_COLORS, [1863, 1936, 2009], [207, 207, 207]):
    ax.add_patch(plt.Rectangle((80, top), 108, 53, facecolor=color, edgecolor='none'))
    ax.text(text_x, top + 30, label, size=28, va='center', color='#111111')

# scale bar, 10 miles on the page
bar_left, bar_right = 1719, 2505
mile = (bar_right - bar_left) / 10
ax.plot([bar_left, bar_right], [2059, 2059], color='black', lw=3.0, solid_capstyle='butt', zorder=9)
for m in SCALE_MILES:
    top = 2033 if m in (0, 5, 10) else 2041
    ax.plot([bar_left + m * mile] * 2, [top, 2060], color='black', lw=1.6, zorder=9)
for label, m in zip(SCALE_LABELS[:3], [0, 2.5, 5]):
    ax.text(bar_left + m * mile, 2007, label, size=24.5, ha='center', va='center', color='#111111')
ax.text(2487, 2007, SCALE_LABELS[3], size=24.5, ha='left', va='center', color='#111111')

# neatline
ax.add_patch(plt.Rectangle((30, 35), 2718, 2078, facecolor='none', edgecolor='#111111', lw=2.4, zorder=10))

ax.set_xlim(0, 2776)
ax.set_ylim(2147, 0)
ax.set_axis_off()

fig.savefig('out.png', dpi=100, facecolor='white')
